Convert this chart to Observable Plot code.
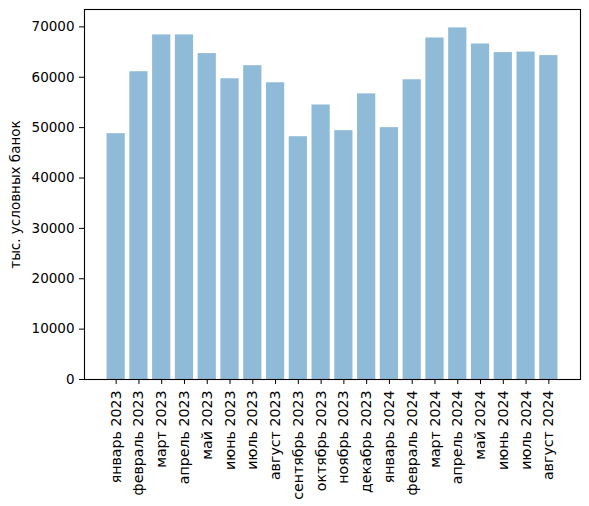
<!DOCTYPE html>
<html>
<head>
<meta charset="utf-8">
<script src="https://cdn.jsdelivr.net/npm/d3@7"></script>
<script src="https://cdn.jsdelivr.net/npm/@observablehq/plot@0.6"></script>
<style>
  body { margin: 0; background: #fff; }
  #chart { width: 589px; height: 506px; }
</style>
</head>
<body>
<div id="chart"></div>
<script>
const months = [
  "январь 2023", "февраль 2023", "март 2023", "апрель 2023", "май 2023",
  "июнь 2023", "июль 2023", "август 2023", "сентябрь 2023", "октябрь 2023",
  "ноябрь 2023", "декабрь 2023", "январь 2024", "февраль 2024", "март 2024",
  "апрель 2024", "май 2024", "июнь 2024", "июль 2024", "август 2024"
];
const values = [
  48800, 61100, 68400, 68400, 64700,
  59700, 62300, 58900, 48200, 54500,
  49400, 56700, 50000, 59500, 67800,
  69800, 66600, 64900, 65000, 64300
];
const yTicks = [0, 10000, 20000, 30000, 40000, 50000, 60000, 70000];

const data = months.map((m, i) => ({ month: m, value: values[i] }));

const container = document.getElementById("chart");

const chart = Plot.plot({
  width: 589,
  height: 506,
  marginLeft: 84,
  marginRight: 9,
  marginTop: 9,
  marginBottom: 127,
  style: { background: "#fff", color: "#000", fontFamily: "DejaVu Sans", fontSize: "13.5px" },
  x: { domain: months, paddingInner: 0.2, paddingOuter: 0.99, round: false, label: null },
  y: { domain: [0, 73450], label: null },
  marks: [
    Plot.barY(data, { x: "month", y: "value", fill: "#1f77b4", fillOpacity: 0.5 }),
    Plot.axisX({ tickRotate: -90, tickSize: 5, tickPadding: 6, fontSize: 14.2, label: null }),
    Plot.axisY({
      ticks: yTicks, tickFormat: d => String(d), tickSize: 5, tickPadding: 5,
      label: "тыс. условных банок", labelAnchor: "center", labelArrow: "none", labelOffset: 74
    }),
    Plot.frame({ stroke: "#000", strokeWidth: 1.1 })
  ]
});

container.replaceChildren(chart);
</script>
</body>
</html>
